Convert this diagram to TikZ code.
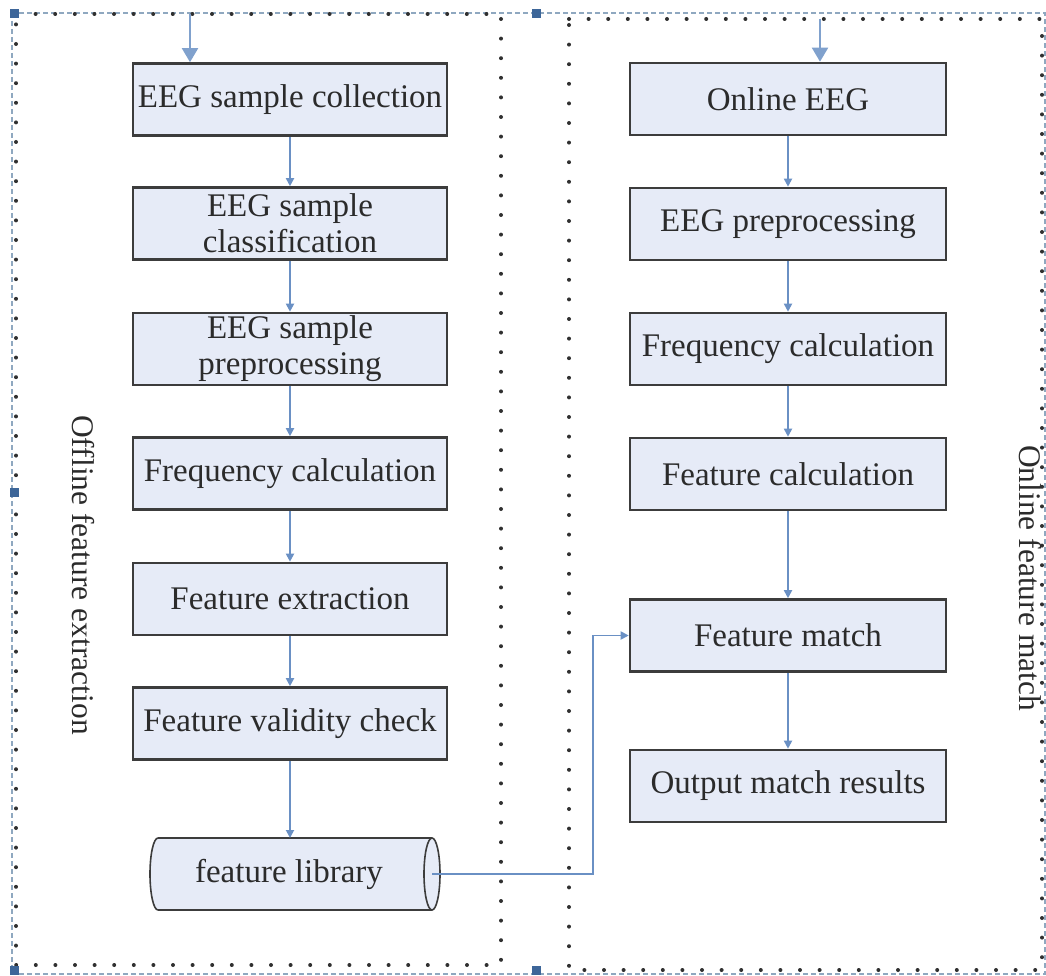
\documentclass[tikz,border=0pt]{standalone}
\usepackage{fontspec}
\setmainfont{Liberation Serif}
\usetikzlibrary{arrows.meta,calc}
\definecolor{boxfill}{HTML}{E6EBF7}
\definecolor{boxline}{HTML}{3C3C3C}
\definecolor{flow}{HTML}{6A90C4}
\definecolor{handle}{HTML}{3D6699}
\definecolor{selline}{HTML}{8FA8C0}
\definecolor{dotcol}{HTML}{303030}
\definecolor{txt}{HTML}{2B2B2B}
\tikzset{
  stepbox/.style={draw=boxline, line width=2.6pt, fill=boxfill, rectangle,
    minimum height=72pt, align=center, text=txt,
    font=\fontsize{33}{36}\selectfont, inner sep=2pt},
  leftbox/.style={stepbox, minimum width=314pt},
  rightbox/.style={stepbox, minimum width=316pt},
  flowarrow/.style={draw=flow, line width=1.8pt, -{Triangle[width=8pt,length=8pt]}},
  bigarrow/.style={draw=flow!85, line width=2pt, -{Triangle[width=16pt,length=14pt]}},
  dotframe/.style={draw=dotcol, line width=4pt, line cap=round, dash pattern=on 0pt off 19.6pt},
  selframe/.style={draw=selline, line width=1.4pt, dash pattern=on 5pt off 3pt},
  handlebox/.style={fill=handle, draw=none, minimum size=9pt, inner sep=0pt, rectangle},
  sidelabel/.style={rotate=-90, text=txt, font=\fontsize{31.5}{34}\selectfont}
}
\begin{document}
\begin{tikzpicture}[x=1pt,y=-1pt]
\useasboundingbox (0,0) rectangle (1046,976);

% selection frame and the two dotted group frames
\draw[selframe] (12,13) rectangle (1045,974);
\draw[dotframe] (16,14) -- (501,14) -- (501,965) -- (16,965) -- cycle;
\draw[dotframe] (569,19) -- (1042,19) -- (1042,970) -- (569,970) -- cycle;

% selection handles
\node[handlebox] (h1) at (14,14) {};
\node[handlebox] (h2) at (536,14) {};
\node[handlebox] (h3) at (14,492) {};
\node[handlebox] (h4) at (14,970) {};
\node[handlebox] (h5) at (536,970) {};

% offline branch
\node[leftbox] (a1) at (290,99.5) {EEG sample collection};
\node[leftbox] (a2) at (290,223.5) {EEG sample\\classification};
\node[leftbox] (a3) at (290,349) {EEG sample\\preprocessing};
\node[leftbox] (a4) at (290,473.5) {Frequency calculation};
\node[leftbox] (a5) at (290,599) {Feature extraction};
\node[leftbox] (a6) at (290,723.5) {Feature validity check};

% feature library cylinder
\fill[boxfill] (158,838) -- (432,838)
  arc[start angle=90, end angle=-90, x radius=8pt, y radius=36pt]
  -- (158,910)
  arc[start angle=270, end angle=90, x radius=8pt, y radius=36pt] -- cycle;
\draw[boxline, line width=2.4pt] (158,838) -- (432,838);
\draw[boxline, line width=2.4pt] (158,910) -- (432,910);
\draw[boxline, line width=1.6pt] (158,910)
  arc[start angle=270, end angle=90, x radius=8pt, y radius=36pt];
\draw[boxline, line width=1.6pt] (432,874) ellipse [x radius=8pt, y radius=36pt];
\node[text=txt, font=\fontsize{33}{36}\selectfont] (lib) at (289,874) {feature library};
\coordinate (libend) at (432,874);

% online branch
\node[rightbox] (b1) at (788,99) {Online EEG};
\node[rightbox] (b2) at (788,224) {EEG preprocessing};
\node[rightbox] (b3) at (788,349) {Frequency calculation};
\node[rightbox] (b4) at (788,474) {Feature calculation};
\node[rightbox] (b5) at (788,635.5) {Feature match};
\node[rightbox] (b6) at (788,786) {Output match results};

% side labels
\node[sidelabel] (offlbl) at (83,575) {Offline feature extraction};
\node[sidelabel] (onlbl) at (1030,578) {Online feature match};

% entry arrows
\coordinate (inA) at (190,14);
\coordinate (inB) at (820,19);
\draw[bigarrow] (inA) -- (inA |- a1.north);
\draw[bigarrow] (inB) -- (inB |- b1.north);

% flow between steps
\draw[flowarrow] (a1) -- (a2);
\draw[flowarrow] (a2) -- (a3);
\draw[flowarrow] (a3) -- (a4);
\draw[flowarrow] (a4) -- (a5);
\draw[flowarrow] (a5) -- (a6);
\draw[flowarrow] (a6.south) -- (a6.south |- 0,838);
\draw[flowarrow] (b1) -- (b2);
\draw[flowarrow] (b2) -- (b3);
\draw[flowarrow] (b3) -- (b4);
\draw[flowarrow] (b4) -- (b5);
\draw[flowarrow] (b5) -- (b6);
\draw[flowarrow] (libend) -- ++(161,0) |- (b5.west);
\end{tikzpicture}
\end{document}
